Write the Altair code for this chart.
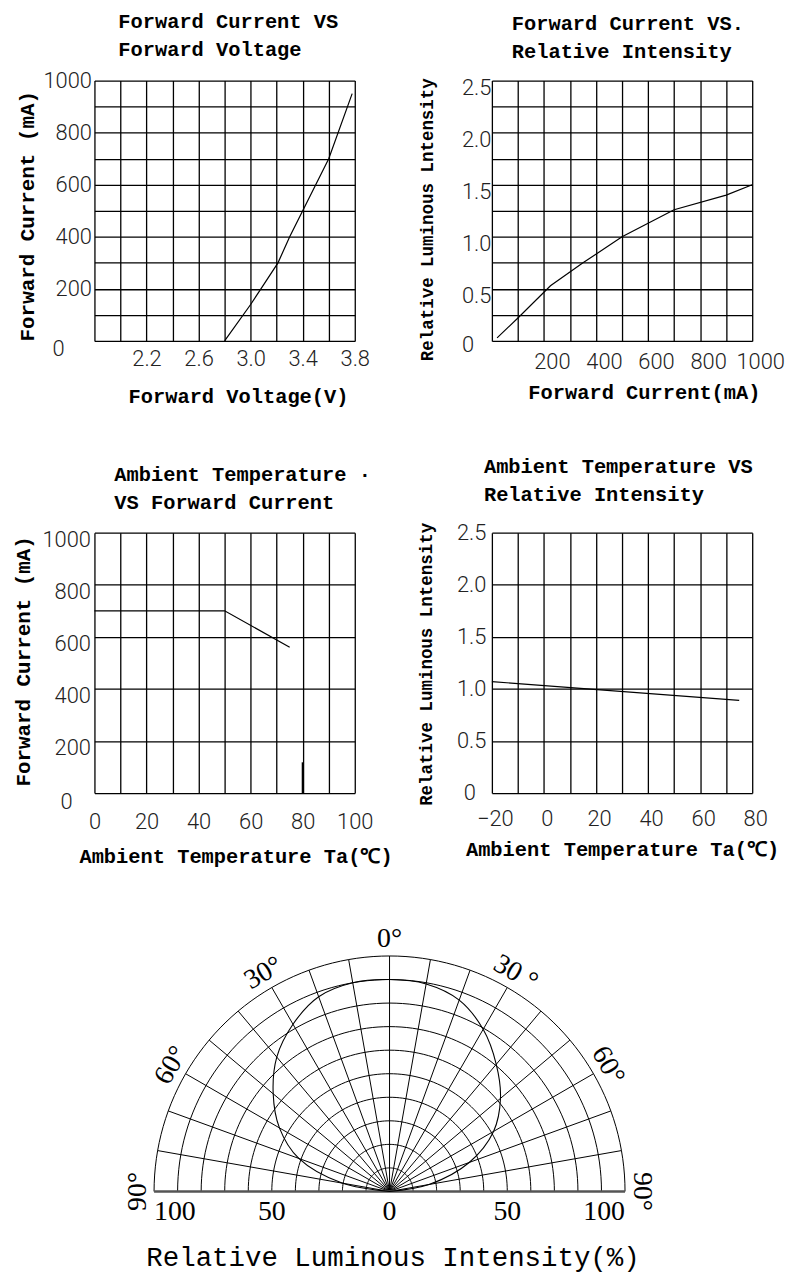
import altair as alt
import numpy as np
import pandas as pd

# ---------------- data ----------------
# Panel 1: Forward Current vs Forward Voltage
fv_voltage = [2.80, 3.00, 3.21, 3.30, 3.40, 3.60, 3.78]
fv_current = [0, 140, 300, 400, 500, 700, 950]
fv_x_ticks = [1.8, 2.0, 2.2, 2.4, 2.6, 2.8, 3.0, 3.2, 3.4, 3.6, 3.8]
fv_x_labels = ["2.2", "2.6", "3.0", "3.4", "3.8"]
fv_y_ticks = [0, 100, 200, 300, 400, 500, 600, 700, 800, 900, 1000]

# Panel 2: Forward Current vs Relative Intensity
fi_current = [20, 100, 225, 350, 500, 700, 900, 1000]
fi_rel = [0.03, 0.22, 0.53, 0.75, 1.00, 1.26, 1.40, 1.50]
fi_x_ticks = [0, 100, 200, 300, 400, 500, 600, 700, 800, 900, 1000]
fi_y_ticks = [0, 0.25, 0.5, 0.75, 1.0, 1.25, 1.5, 1.75, 2.0, 2.25, 2.5]
fi_y_labels = ["0.5", "1.0", "1.5", "2.0", "2.5"]

# Panel 3: Ambient Temperature vs Forward Current
tc_temp = [0, 50, 75]
tc_current = [700, 700, 560]
tc_mark_temp = [80]
tc_mark_top = [118]
tc_x_ticks = [0, 10, 20, 30, 40, 50, 60, 70, 80, 90, 100]
tc_y_ticks = [0, 200, 400, 600, 800, 1000]

# Panel 4: Ambient Temperature vs Relative Intensity
tr_temp = [-20, 75]
tr_rel = [1.07, 0.89]
tr_x_ticks = [-20, -10, 0, 10, 20, 30, 40, 50, 60, 70, 80]
tr_y_ticks = [0, 0.5, 1.0, 1.5, 2.0, 2.5]

# Panel 5: radiation pattern
pol_angle = [-90, -80, -70, -60, -50, -40, -30, -20, -10, 0,
             10, 20, 30, 40, 50, 60, 70, 80, 90]
pol_intensity = [0, 20.5, 41, 54, 64.5, 74.5, 82, 88, 90, 90,
                 89.5, 86.5, 79.5, 70.5, 61.5, 51, 36, 17, 0]
pol_rings = [10, 20, 30, 40, 50, 60, 70, 80, 90, 100]
pol_spokes = [-80, -70, -60, -50, -40, -30, -20, -10, 0, 10, 20, 30, 40, 50, 60, 70, 80]
pol_angle_labels = [-90, -60, -30, 0, 30, 60, 90]
pol_angle_texts = ["90°", "60°", "30°", "0°", "30 °", "60°", "90°"]
pol_scale_values = [-100, -50, 0, 50, 100]
pol_scale_texts = ["100", "50", "0", "50", "100"]

# ---------------- styles ----------------
FONT_T = "Liberation Mono"
FONT_L = "Roboto"
FONT_S = "Liberation Serif"
LAB_SIZE = 22
LAB_W = 300
LAB_C = "#222222"
GRID_W = 1.3
TITLE_SIZE = 20.5


def x_axis(values, fmt, expr, title, pad, off, tx, ty, tsize=TITLE_SIZE):
    return alt.Axis(
        values=values, tickCount=40, format=fmt, labelExpr=expr, title=title,
        grid=True, gridColor="black", gridWidth=GRID_W, gridOpacity=1,
        domain=False, ticks=False, tickSize=0,
        labelFont=FONT_L, labelFontSize=LAB_SIZE, labelFontWeight=LAB_W, labelColor=LAB_C,
        labelAlign="center", labelBaseline="alphabetic", labelPadding=pad, labelOffset=off,
        labelFlush=False, labelOverlap=False, labelBound=False,
        titleFont=FONT_T, titleFontSize=tsize, titleFontWeight="bold", titleColor="black",
        titleAngle=0, titleAlign="center", titleBaseline="alphabetic", titleX=tx, titleY=ty,
    )


def y_axis(values, fmt, expr, title, pad, off, tx, ty, tsize):
    return alt.Axis(
        values=values, tickCount=40, format=fmt, labelExpr=expr, title=title,
        grid=True, gridColor="black", gridWidth=GRID_W, gridOpacity=1,
        domain=False, ticks=False, tickSize=0,
        labelFont=FONT_L, labelFontSize=LAB_SIZE, labelFontWeight=LAB_W, labelColor=LAB_C,
        labelAlign="right", labelBaseline="middle", labelPadding=pad, labelOffset=off,
        labelFlush=False, labelOverlap=False, labelBound=False,
        titleFont=FONT_T, titleFontSize=tsize, titleFontWeight="bold", titleColor="black",
        titleAngle=270, titleAlign="center", titleBaseline="alphabetic", titleX=tx, titleY=ty,
    )


def ttl(lines, dx, dy):
    return alt.TitleParams(
        text=lines, anchor="start", frame="group", dx=dx, dy=dy, offset=0,
        font=FONT_T, fontSize=TITLE_SIZE, fontWeight="bold", color="black",
        lineHeight=28.5, baseline="bottom",
    )


def corner_zero(xv, sx, sy, dx, dy):
    df = pd.DataFrame({"x": [xv], "y": [0], "t": ["0"]})
    return alt.Chart(df).mark_text(
        font=FONT_L, fontSize=LAB_SIZE, fontWeight=LAB_W, color=LAB_C,
        align="right", baseline="middle", dx=dx, dy=dy,
    ).encode(
        x=alt.X("x:Q", scale=sx),
        y=alt.Y("y:Q", scale=sy),
        text="t:N",
    )


W = 262
H = 262
FC_TITLE = "Forward Current (mA)"

# ---------------- panel 1 ----------------
df1 = pd.DataFrame({"x": fv_voltage, "y": fv_current})
sx1 = alt.Scale(domain=[fv_x_ticks[0], fv_x_ticks[-1]], nice=False, zero=False)
sy1 = alt.Scale(domain=[fv_y_ticks[0], fv_y_ticks[-1]], nice=False, zero=False)
line1 = alt.Chart(df1).mark_line(color="black", strokeWidth=1.2).encode(
    x=alt.X("x:Q", scale=sx1, axis=x_axis(
        fv_x_ticks, ".1f", f"indexof({fv_x_labels}, datum.label) >= 0 ? datum.label : ''",
        "Forward Voltage(V)", 25, 0, 144.5, 62)),
    y=alt.Y("y:Q", scale=sy1, axis=y_axis(
        fv_y_ticks, "d", "datum.value > 0 && datum.value % 200 == 0 ? datum.label : ''",
        FC_TITLE, 3, 0, -61, 136, 21)),
)
p1 = alt.layer(line1, corner_zero(fv_x_ticks[0], sx1, sy1, -30, 8)).properties(
    width=W, height=H, title=ttl(["Forward Current VS", "Forward Voltage"], 24, 11))

# ---------------- panel 2 ----------------
df2 = pd.DataFrame({"x": fi_current, "y": fi_rel})
sx2 = alt.Scale(domain=[fi_x_ticks[0], fi_x_ticks[-1]], nice=False, zero=False)
sy2 = alt.Scale(domain=[fi_y_ticks[0], fi_y_ticks[-1]], nice=False, zero=False)
line2 = alt.Chart(df2).mark_line(color="black", strokeWidth=1.2).encode(
    x=alt.X("x:Q", scale=sx2, axis=x_axis(
        fi_x_ticks, "d", "datum.value >= 200 && datum.value % 200 == 0 ? datum.label : ''",
        "Forward Current(mA)", 28, 8, 153, 58)),
    y=alt.Y("y:Q", scale=sy2, axis=y_axis(
        fi_y_ticks, ".1f", f"indexof({fi_y_labels}, datum.label) >= 0 ? datum.label : ''",
        "Relative Luminous Lntensity", 1, 7, -60, 139.5, 17.6)),
)
p2 = alt.layer(line2, corner_zero(fi_x_ticks[0], sx2, sy2, -18, 4)).properties(
    width=W, height=H, title=ttl(["Forward Current VS.", "Relative Intensity"], 20, 6))

# ---------------- panel 3 ----------------
df3 = pd.DataFrame({"x": tc_temp, "y": tc_current})
sx3 = alt.Scale(domain=[tc_x_ticks[0], tc_x_ticks[-1]], nice=False, zero=False)
sy3 = alt.Scale(domain=[tc_y_ticks[0], tc_y_ticks[-1]], nice=False, zero=False)
line3 = alt.Chart(df3).mark_line(color="black", strokeWidth=1.2).encode(
    x=alt.X("x:Q", scale=sx3, axis=x_axis(
        tc_x_ticks, "d", "datum.value % 20 == 0 ? datum.label : ''",
        "Ambient Temperature Ta(℃)", 36, 0, 142, 70)),
    y=alt.Y("y:Q", scale=sy3, axis=y_axis(
        tc_y_ticks, "d", "datum.value > 0 ? datum.label : ''",
        FC_TITLE, 4, 7, -65, 129, 21)),
)
mark3 = alt.Chart(pd.DataFrame({"x": tc_mark_temp, "y": [0], "y2": tc_mark_top})).mark_rule(
    color="black", strokeWidth=2).encode(
    x=alt.X("x:Q", scale=sx3),
    y=alt.Y("y:Q", scale=sy3),
    y2="y2:Q",
)
p3 = alt.layer(line3, mark3, corner_zero(tc_x_ticks[0], sx3, sy3, -22, 9)).properties(
    width=W, height=H, title=ttl(["Ambient Temperature ·", "VS Forward Current"], 20, 5))

# ---------------- panel 4 ----------------
df4 = pd.DataFrame({"x": tr_temp, "y": tr_rel})
sx4 = alt.Scale(domain=[tr_x_ticks[0], tr_x_ticks[-1]], nice=False, zero=False)
sy4 = alt.Scale(domain=[tr_y_ticks[0], tr_y_ticks[-1]], nice=False, zero=False)
line4 = alt.Chart(df4).mark_line(color="black", strokeWidth=1.2).encode(
    x=alt.X("x:Q", scale=sx4, axis=x_axis(
        tr_x_ticks, "d", "datum.value % 20 == 0 ? datum.label : ''",
        "Ambient Temperature Ta(℃)", 33, 3, 131, 63)),
    y=alt.Y("y:Q", scale=sy4, axis=y_axis(
        tr_y_ticks, ".1f", "datum.value > 0 ? datum.label : ''",
        "Relative Luminous Lntensity", 6, 0, -61, 132, 17.6)),
)
p4 = alt.layer(line4, corner_zero(tr_x_ticks[0], sx4, sy4, -16, 0)).properties(
    width=W, height=H, title=ttl(["Ambient Temperature VS", "Relative Intensity"], -8, 4))

# ---------------- panel 5 (polar) ----------------
rad = np.radians
sx5 = alt.Scale(domain=[-100, 100], range=[60, 534], nice=False, zero=False)
sy5 = alt.Scale(domain=[0, 100], range=[208, -29], nice=False, zero=False)

ring_df = pd.DataFrame(
    [{"ring": r, "a": a, "x": r * np.sin(rad(a)), "y": r * np.cos(rad(a))}
     for r in pol_rings for a in range(-90, 91, 2)])
rings = alt.Chart(ring_df).mark_line(color="black", strokeWidth=1).encode(
    x=alt.X("x:Q", scale=sx5, axis=None),
    y=alt.Y("y:Q", scale=sy5, axis=None),
    detail="ring:N", order="a:Q",
)

spoke_df = pd.DataFrame({"a": pol_spokes})
spoke_df["x0"] = 0.0
spoke_df["y0"] = 0.0
spoke_df["x1"] = pol_rings[-1] * np.sin(rad(spoke_df["a"]))
spoke_df["y1"] = pol_rings[-1] * np.cos(rad(spoke_df["a"]))
spokes = alt.Chart(spoke_df).mark_rule(color="black", strokeWidth=1).encode(
    x=alt.X("x0:Q", scale=sx5, axis=None),
    y=alt.Y("y0:Q", scale=sy5, axis=None),
    x2="x1:Q", y2="y1:Q",
)

base_df = pd.DataFrame({"x0": [-pol_rings[-1]], "x1": [pol_rings[-1]], "y0": [0]})
base = alt.Chart(base_df).mark_rule(color="#555555", strokeWidth=2.5).encode(
    x=alt.X("x0:Q", scale=sx5, axis=None),
    y=alt.Y("y0:Q", scale=sy5, axis=None),
    x2="x1:Q",
)

curve_df = pd.DataFrame({"a": pol_angle, "r": pol_intensity})
curve_df["x"] = curve_df["r"] * np.sin(rad(curve_df["a"]))
curve_df["y"] = curve_df["r"] * np.cos(rad(curve_df["a"]))
curve = alt.Chart(curve_df).mark_line(color="black", strokeWidth=1.1, interpolate="catmull-rom").encode(
    x=alt.X("x:Q", scale=sx5, axis=None),
    y=alt.Y("y:Q", scale=sy5, axis=None),
    order="a:Q",
)

LABEL_R = 107
lab_df = pd.DataFrame({"a": pol_angle_labels, "t": pol_angle_texts})
lab_df["x"] = LABEL_R * np.sin(rad(lab_df["a"]))
lab_df["y"] = LABEL_R * np.cos(rad(lab_df["a"]))
lab_df["rot"] = lab_df["a"] % 360
ang_labels = alt.Chart(lab_df).mark_text(
    font=FONT_S, fontSize=28, color="black", align="center", baseline="middle").encode(
    x=alt.X("x:Q", scale=sx5, axis=None),
    y=alt.Y("y:Q", scale=sy5, axis=None),
    text="t:N",
    angle=alt.Angle("rot:Q", scale=None),
)

sc_df = pd.DataFrame({"x": pol_scale_values, "t": pol_scale_texts})
sc_df["y"] = 0.0
sc_base = alt.Chart(sc_df)


def sc_mark(cond, align):
    return sc_base.transform_filter(cond).mark_text(
        font=FONT_S, fontSize=28, color="black", align=align, baseline="middle", dy=21).encode(
        x=alt.X("x:Q", scale=sx5, axis=None),
        y=alt.Y("y:Q", scale=sy5, axis=None),
        text="t:N",
    )


sc_left = sc_mark("datum.x == -100", "left")
sc_right = sc_mark("datum.x == 100", "right")
sc_mid = sc_mark("datum.x > -100 && datum.x < 100", "center")

pt_df = pd.DataFrame({"x": [0], "y": [0], "t": ["Relative Luminous Intensity(%)"]})
pol_title = alt.Chart(pt_df).mark_text(
    font=FONT_T, fontSize=27.6, color="black", align="center", baseline="alphabetic",
    dx=3.5, dy=75).encode(
    x=alt.X("x:Q", scale=sx5, axis=None),
    y=alt.Y("y:Q", scale=sy5, axis=None),
    text="t:N",
)

p5 = alt.layer(rings, spokes, base, curve, ang_labels, sc_left, sc_right, sc_mid, pol_title).properties(
    width=W, height=237)

chart = alt.concat(
    p1, p2, p3, p4, p5, columns=2,
    spacing={"row": 193, "column": 138}, bounds="flush",
).properties(
    padding={"left": 4, "top": 0, "right": 0, "bottom": 0},
).configure_view(stroke=None)

chart.save("out.html", embed_options={"renderer": "svg", "actions": False})
